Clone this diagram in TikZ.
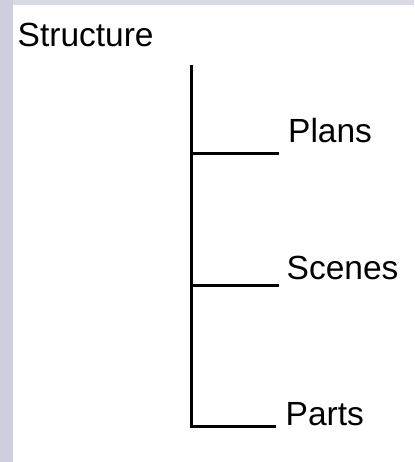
\documentclass[tikz,border=0pt]{standalone}
\usepackage{fontspec}
\setmainfont{Liberation Sans}
\definecolor{framegray}{RGB}{206,206,221}
\definecolor{topgray}{RGB}{218,218,230}
\begin{document}
\begin{tikzpicture}[x=1pt,y=-1pt,
    branch/.style={draw=black,line width=3pt},
    item/.style={anchor=base west,inner sep=0pt,font=\fontsize{33.5}{40}\selectfont}]
  \useasboundingbox (0,0) rectangle (414,462);
  \fill[framegray] (0,0) rectangle (13,462);
  \fill[topgray] (13,0) rectangle (414,5);
  \fill[white] (13,5) rectangle (414,462);

  \node[item] (st) at (17.5,46.5) {Structure};
  \node[item] (pl) at (288,143) {Plans};
  \node[item] (sc) at (286.5,279.5) {Scenes};
  \node[item] (pa) at (285.5,425) {Parts};

  \coordinate (top) at (191.5,64.7);
  \coordinate (j1) at (191.5,153.5);
  \coordinate (j2) at (191.5,285);
  \coordinate (e1) at (279,153.5);
  \coordinate (e2) at (279,285);
  \coordinate (e3) at (276,426);

  \path[branch] (top) |- (e3);
  \path[branch] (j1) -- (e1);
  \path[branch] (j2) -- (e2);
\end{tikzpicture}
\end{document}
